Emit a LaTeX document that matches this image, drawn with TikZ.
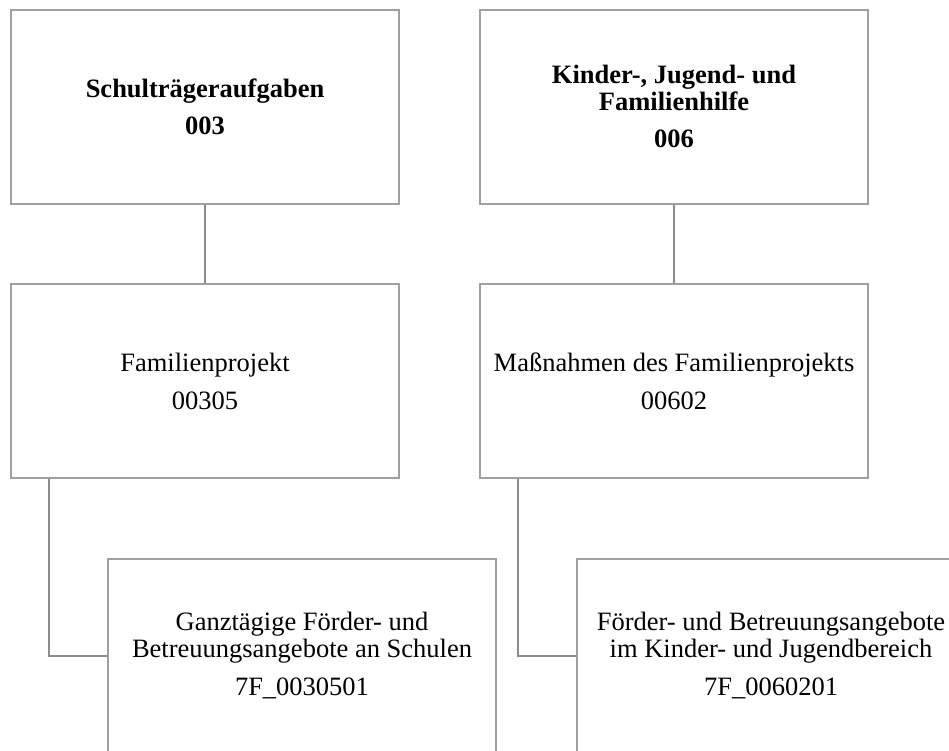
\documentclass[tikz,border=0pt]{standalone}
\usepackage{fontspec}
\setmainfont{Liberation Serif}
\definecolor{boxgray}{RGB}{160,160,160}
\definecolor{linegray}{RGB}{140,140,140}
\tikzset{
  orgbox/.style={draw=boxgray, line width=2pt, rectangle, minimum width=388pt, minimum height=194pt, inner sep=0pt, align=center, font=\fontsize{26.5}{27}\selectfont},
  titlebox/.style={orgbox, font=\fontsize{26.5}{27}\selectfont\bfseries},
  link/.style={draw=linegray, line width=2pt}
}
\begin{document}
\begin{tikzpicture}[x=1pt,y=-1pt]
\clip (0,0) rectangle (949,750);
\fill[white] (0,0) rectangle (949,750);
\node[titlebox] (t1) at (205,106.5) {Schulträgeraufgaben\\[10pt]003};
\node[titlebox] (t2) at (674,106.5) {Kinder-, Jugend- und\\Familienhilfe\\[10pt]006};
\node[orgbox] (m1) at (205,381) {Familienprojekt\\[11pt]00305};
\node[orgbox] (m2) at (674,381) {Maßnahmen des Familienprojekts\\[11pt]00602};
\node[orgbox] (b1) at (302,656) {Ganztägige Förder- und\\Betreuungsangebote an Schulen\\[11pt]7F\_0030501};
\node[orgbox] (b2) at (771,656) {Förder- und Betreuungsangebote\\im Kinder- und Jugendbereich\\[11pt]7F\_0060201};
\draw[link] (t1.south) -- (m1.north);
\draw[link] (t2.south) -- (m2.north);
\coordinate (e1) at ([xshift=39pt]m1.south west);
\coordinate (e2) at ([xshift=39pt]m2.south west);
\draw[link] (e1) |- (b1.west);
\draw[link] (e2) |- (b2.west);
\end{tikzpicture}
\end{document}
